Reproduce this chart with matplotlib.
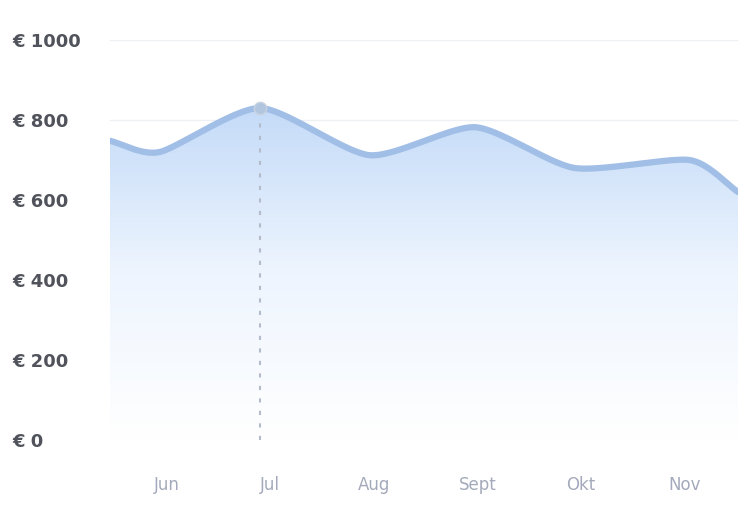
import matplotlib.pyplot as plt
import numpy as np
from matplotlib.colors import LinearSegmentedColormap

# month index positions of data points (0 = Jun)
x_pos = [-0.55, -0.07, 0.90, 1.96, 2.98, 3.94, 5.05, 5.52]
values = [748, 720, 830, 712, 782, 680, 700, 620]
months = ['Jun', 'Jul', 'Aug', 'Sept', 'Okt', 'Nov']
y_ticks = [0, 200, 400, 600, 800, 1000]
hover_idx = 2


def smooth(xs, ys, n=40):
    # catmull-rom style curve through the points, only for drawing
    xs = np.asarray(xs, float)
    ys = np.asarray(ys, float)
    px = np.concatenate([[2 * xs[0] - xs[1]], xs, [2 * xs[-1] - xs[-2]]])
    py = np.concatenate([[2 * ys[0] - ys[1]], ys, [2 * ys[-1] - ys[-2]]])
    out_x, out_y = [], []
    t = np.linspace(0, 1, n)
    for i in range(1, len(px) - 2):
        for p, o in ((px, out_x), (py, out_y)):
            p0, p1, p2, p3 = p[i - 1], p[i], p[i + 1], p[i + 2]
            m1 = (p2 - p0) * 0.35
            m2 = (p3 - p1) * 0.35
            h00 = 2 * t**3 - 3 * t**2 + 1
            h10 = t**3 - 2 * t**2 + t
            h01 = -2 * t**3 + 3 * t**2
            h11 = t**3 - t**2
            o.extend(h00 * p1 + h10 * m1 + h01 * p2 + h11 * m2)
    return np.array(out_x), np.array(out_y)


fig = plt.figure(figsize=(7.54, 5.12), dpi=100)
ax = fig.add_axes([110 / 754, 1 - 440 / 512, 628 / 754, 400 / 512])

sx, sy = smooth(x_pos, values)

# gradient fill under the curve
poly = ax.fill_between(sx, sy, 0, color='none', lw=0)
cmap = LinearSegmentedColormap.from_list('g', ['#ffffff', '#eef5fe', '#c4dbf8'])
grad = np.linspace(0, 1, 256).reshape(-1, 1)
img = ax.imshow(grad, cmap=cmap, aspect='auto', origin='lower',
                extent=[x_pos[0], x_pos[-1], 0, max(values)], zorder=1)
path = poly.get_paths()[0]
img.set_clip_path(path, transform=ax.transData)

ax.plot(sx, sy, color='#a0bee6', lw=4.5, solid_capstyle='round', zorder=3)

# hover guide
ax.plot([x_pos[hover_idx], x_pos[hover_idx]], [0, values[hover_idx]],
        color='#b4bccb', lw=1.5, ls=(0, (2, 4)), zorder=2)
ax.scatter([x_pos[hover_idx]], [values[hover_idx]], s=80, color='#b3c6df',
           edgecolor='#c9d3e0', zorder=4)

ax.set_xlim(x_pos[0], x_pos[-1])
ax.set_ylim(0, 1000)
ax.set_yticks(y_ticks)
ax.set_yticklabels(['€ ' + str(v) for v in y_ticks])
ax.set_xticks(range(len(months)))
ax.set_xticklabels(months)
for g in y_ticks:
    ax.axhline(g, color='#eef0f3', lw=1, zorder=0)

for s in ax.spines.values():
    s.set_visible(False)
ax.tick_params(axis='both', length=0)
ax.tick_params(axis='y', labelsize=13, labelcolor='#50535b')
ax.tick_params(axis='x', pad=26, labelsize=12, labelcolor='#a4aabb')
for lab in ax.get_yticklabels():
    lab.set_fontweight('bold')
    lab.set_horizontalalignment('left')
ax.yaxis.set_tick_params(pad=70)

fig.savefig('out.png', dpi=100)
